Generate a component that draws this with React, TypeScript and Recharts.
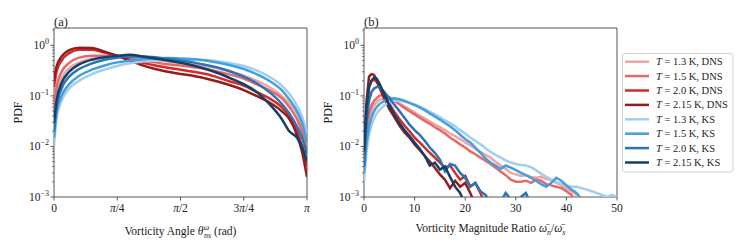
import React from 'react';
import { LineChart, Line, XAxis, YAxis, ReferenceArea } from 'recharts';

const FONT = '"Liberation Serif", "DejaVu Serif", serif';
const INK = '#222';

const LEGEND_TEMPS = ['1.3', '1.5', '2.0', '2.15', '1.3', '1.5', '2.0', '2.15'];
const LEGEND_MODELS = ['DNS', 'DNS', 'DNS', 'DNS', 'KS', 'KS', 'KS', 'KS'];
const COLORS = ['#f2a3a3', '#e46a6a', '#d42a2a', '#951c1c', '#a0cff0', '#449fe0', '#2a74b4', '#143f66'];

// panel (a): angle in units of pi
const ANGLE = [0, 0.01, 0.03, 0.06, 0.1, 0.15, 0.2, 0.25, 0.3, 0.35, 0.4, 0.45, 0.5, 0.55, 0.6, 0.65, 0.7, 0.75, 0.8, 0.85, 0.9, 0.93, 0.96, 0.98, 1.0];
const ANGLE_TICKS = [0, 0.25, 0.5, 0.75, 1];
const ANGLE_TICK_LABELS = ['0', 'π/4', 'π/2', '3π/4', 'π'];

const A_DNS_13 = [0.04, 0.1, 0.22, 0.35, 0.46, 0.54, 0.58, 0.6, 0.58, 0.55, 0.52, 0.48, 0.45, 0.42, 0.39, 0.35, 0.3, 0.25, 0.2, 0.15, 0.1, 0.07, 0.045, 0.025, 0.012];
const A_DNS_15 = [0.06, 0.15, 0.3, 0.45, 0.57, 0.62, 0.62, 0.6, 0.55, 0.5, 0.46, 0.42, 0.4, 0.37, 0.34, 0.3, 0.26, 0.22, 0.17, 0.13, 0.09, 0.06, 0.035, 0.02, 0.008];
const A_DNS_20 = [0.15, 0.3, 0.5, 0.7, 0.82, 0.82, 0.72, 0.62, 0.52, 0.45, 0.4, 0.36, 0.33, 0.3, 0.27, 0.23, 0.19, 0.16, 0.12, 0.09, 0.06, 0.04, 0.02, 0.01, 0.004];
const A_DNS_215 = [0.2, 0.38, 0.6, 0.8, 0.9, 0.88, 0.75, 0.62, 0.5, 0.4, 0.34, 0.3, 0.27, 0.25, 0.22, 0.19, 0.16, 0.13, 0.1, 0.075, 0.05, 0.035, 0.017, 0.008, 0.0025];
const A_KS_13 = [0.01, 0.035, 0.08, 0.14, 0.2, 0.27, 0.33, 0.39, 0.44, 0.48, 0.5, 0.52, 0.52, 0.52, 0.51, 0.48, 0.44, 0.39, 0.32, 0.24, 0.16, 0.11, 0.065, 0.04, 0.018];
const A_KS_15 = [0.015, 0.045, 0.1, 0.17, 0.25, 0.33, 0.4, 0.46, 0.5, 0.53, 0.55, 0.56, 0.55, 0.53, 0.5, 0.45, 0.4, 0.34, 0.27, 0.2, 0.13, 0.085, 0.05, 0.03, 0.012];
const A_KS_20 = [0.02, 0.06, 0.14, 0.24, 0.34, 0.44, 0.52, 0.57, 0.6, 0.6, 0.58, 0.54, 0.5, 0.46, 0.41, 0.36, 0.3, 0.24, 0.18, 0.12, 0.07, 0.045, 0.025, 0.015, 0.007];
const A_KS_215 = [0.03, 0.08, 0.18, 0.3, 0.42, 0.52, 0.58, 0.62, 0.65, 0.6, 0.55, 0.5, 0.45, 0.4, 0.34, 0.28, 0.22, 0.17, 0.12, 0.07, 0.035, 0.02, 0.015, 0.01, 0.005];

// panel (b): magnitude ratio
const RATIO = [0, 0.5, 1, 1.5, 2, 2.5, 3, 4, 5, 6, 7, 8, 9, 10, 11, 12, 13, 14, 15, 16, 17, 18, 19, 20, 21, 22, 23, 24, 25, 26, 27, 28, 29, 30, 31, 32, 33, 34, 35, 36, 37, 38, 39, 40, 41, 42, 43, 44, 45, 46, 47, 48, 49, 50];
const RATIO_TICKS = [0, 10, 20, 30, 40, 50];

const B_DNS_13 = [0.003, 0.015, 0.035, 0.052, 0.065, 0.075, 0.083, 0.09, 0.088, 0.08, 0.07, 0.062, 0.054, 0.047, 0.041, 0.036, 0.031, 0.027, 0.024, 0.021, 0.018, 0.016, 0.014, 0.012, 0.0105, 0.009, 0.0078, 0.0068, 0.006, 0.005, 0.0042, 0.0036, 0.003, 0.0028, 0.0026, 0.0027, 0.0025, 0.0024, 0.0025, 0.0023, 0.0021, 0.0019, 0.0017, 0.0015, 0.0013, 0.0011, 0.0007, null, null, null, null, null, null, null];
const B_DNS_15 = [0.004, 0.02, 0.045, 0.065, 0.08, 0.09, 0.1, 0.105, 0.095, 0.08, 0.068, 0.058, 0.05, 0.043, 0.037, 0.032, 0.028, 0.024, 0.021, 0.018, 0.015, 0.013, 0.011, 0.0095, 0.008, 0.007, 0.006, 0.0052, 0.0045, 0.0038, 0.0032, 0.0027, 0.0022, 0.002, 0.002, 0.0021, 0.0019, 0.0022, 0.0021, 0.0018, 0.0017, 0.0016, 0.0015, 0.0013, 0.0011, 0.0007, null, null, null, null, null, null, null, null];
const B_DNS_20 = [0.005, 0.05, 0.15, 0.2, 0.21, 0.19, 0.16, 0.11, 0.07, 0.048, 0.035, 0.026, 0.02, 0.015, 0.012, 0.0095, 0.0075, 0.006, 0.0048, 0.0038, 0.0042, 0.003, 0.0022, 0.0026, 0.0016, 0.0019, 0.0012, 0.0007, null, null, null, null, null, null, null, null, null, null, null, null, null, null, null, null, null, null, null, null, null, null, null, null, null, null];
const B_DNS_215 = [0.006, 0.08, 0.24, 0.27, 0.26, 0.2, 0.15, 0.09, 0.055, 0.038, 0.026, 0.019, 0.015, 0.011, 0.0085, 0.0065, 0.005, 0.0038, 0.0028, 0.0022, 0.0015, 0.0021, 0.0016, 0.0019, 0.0012, 0.0007, null, null, null, null, null, null, null, null, null, null, null, null, null, null, null, null, null, null, null, null, null, null, null, null, null, null, null, null];
const B_KS_13 = [0.002, 0.008, 0.017, 0.027, 0.036, 0.045, 0.052, 0.065, 0.075, 0.08, 0.08, 0.077, 0.072, 0.067, 0.061, 0.055, 0.049, 0.043, 0.038, 0.033, 0.029, 0.025, 0.021, 0.018, 0.015, 0.013, 0.011, 0.0092, 0.0078, 0.0068, 0.006, 0.0053, 0.0048, 0.0045, 0.0043, 0.0042, 0.0039, 0.0034, 0.0029, 0.0025, 0.0022, 0.002, 0.0018, 0.0017, 0.0016, 0.0016, 0.0015, 0.0014, 0.0013, 0.0012, 0.0011, 0.001, 0.0011, 0.001];
const B_KS_15 = [0.003, 0.012, 0.025, 0.038, 0.05, 0.06, 0.068, 0.08, 0.088, 0.09, 0.086, 0.08, 0.073, 0.066, 0.059, 0.052, 0.045, 0.039, 0.034, 0.029, 0.025, 0.021, 0.017, 0.014, 0.012, 0.0095, 0.0075, 0.0058, 0.0048, 0.0042, 0.0036, 0.0042, 0.0038, 0.0034, 0.003, 0.0027, 0.0024, 0.0021, 0.0018, 0.0016, 0.0019, 0.0024, 0.0021, 0.0017, 0.0014, 0.0012, 0.0009, 0.0006, null, null, null, null, null, null];
const B_KS_20 = [0.004, 0.03, 0.08, 0.12, 0.14, 0.15, 0.15, 0.12, 0.09, 0.067, 0.05, 0.037, 0.027, 0.021, 0.017, 0.013, 0.0095, 0.0075, 0.0055, 0.0032, 0.0045, 0.0042, 0.003, 0.0024, 0.0016, 0.0019, 0.0013, 0.0011, 0.0008, 0.0007, 0.0008, 0.0012, 0.0009, 0.0008, 0.001, 0.0012, 0.0007, null, null, null, null, null, null, null, null, null, null, null, null, null, null, null, null, null];
const B_KS_215 = [0.008, 0.06, 0.15, 0.2, 0.23, 0.22, 0.18, 0.11, 0.065, 0.042, 0.029, 0.021, 0.016, 0.012, 0.009, 0.0065, 0.0042, 0.0048, 0.0035, 0.004, 0.0025, 0.0016, 0.0012, 0.0007, null, null, null, null, null, null, null, null, null, null, null, null, null, null, null, null, null, null, null, null, null, null, null, null, null, null, null, null, null, null];

const ANGLE_SERIES = [A_DNS_13, A_DNS_15, A_DNS_20, A_DNS_215, A_KS_13, A_KS_15, A_KS_20, A_KS_215];
const RATIO_SERIES = [B_DNS_13, B_DNS_15, B_DNS_20, B_DNS_215, B_KS_13, B_KS_15, B_KS_20, B_KS_215];

const angleData = ANGLE.map((x, i) => {
  const row: Record<string, number | null> = { x };
  ANGLE_SERIES.forEach((s, k) => (row[`s${k}`] = s[i]));
  return row;
});
const ratioData = RATIO.map((x, i) => {
  const row: Record<string, number | null> = { x };
  RATIO_SERIES.forEach((s, k) => (row[`s${k}`] = s[i]));
  return row;
});

const Y_DOMAIN = [0.001, 2.2];
const Y_TICKS: number[] = [];
[0.001, 0.01, 0.1, 1].forEach((d) => {
  for (let m = 1; m <= 9; m++) {
    if (d * m <= 2.2) Y_TICKS.push(d * m);
  }
});

const LogTick = (props: any) => {
  const { x, y, payload } = props;
  const lg = Math.log10(payload.value);
  const exp = Math.round(lg);
  const major = Math.abs(lg - exp) < 1e-6;
  return (
    <g>
      <line x1={x} x2={x - (major ? 3.5 : 2)} y1={y} y2={y} stroke="#333" strokeWidth={major ? 0.8 : 0.6} />
      {major && (
        <text x={x - 5} y={y + 4} textAnchor="end" fontSize={11.5} fill={INK} fontFamily={FONT}>
          <tspan>10</tspan>
          <tspan dy={-5} fontSize={8}>{exp === 0 ? '0' : `−${-exp}`}</tspan>
        </text>
      )}
    </g>
  );
};

const makeXTick = (labels: Record<number, string>) => (props: any) => {
  const { x, y, payload } = props;
  const label = labels[payload.value] ?? String(payload.value);
  const parts = label.split('π');
  return (
    <g>
      <line x1={x} x2={x} y1={y} y2={y + 3.5} stroke="#333" strokeWidth={0.8} />
      <text x={x} y={y + 15} textAnchor="middle" fontSize={11.5} fill={INK} fontFamily={FONT}>
        {parts.map((p, i) => (
          <React.Fragment key={i}>
            {i > 0 && <tspan fontStyle="italic">π</tspan>}
            {p && <tspan>{p}</tspan>}
          </React.Fragment>
        ))}
      </text>
    </g>
  );
};

const angleLabels: Record<number, string> = {};
ANGLE_TICKS.forEach((t, i) => (angleLabels[t] = ANGLE_TICK_LABELS[i]));
const AngleTick = makeXTick(angleLabels);
const RatioTick = makeXTick({});

// y label "PDF" plus the panel tag above the plot's top-left corner
const makeYLabel = (tag: string) => (props: any) => {
  const { viewBox } = props;
  const cx = viewBox.x + viewBox.width - 36;
  const cy = viewBox.y + viewBox.height / 2;
  return (
    <g>
      <text x={cx} y={cy} transform={`rotate(-90, ${cx}, ${cy})`} textAnchor="middle" dominantBaseline="central" fontSize={12} fill={INK} fontFamily={FONT}>
        PDF
      </text>
      <text x={viewBox.x + viewBox.width} y={viewBox.y - 2.5} fontSize={12.5} fill={INK} fontFamily={FONT}>
        {tag}
      </text>
    </g>
  );
};

const AngleAxisLabel = (props: any) => {
  const { viewBox } = props;
  return (
    <text x={viewBox.x + viewBox.width / 2} y={viewBox.y + 38} textAnchor="middle" fontSize={11.5} fill={INK} fontFamily={FONT}>
      {'Vorticity Angle '}
      <tspan fontStyle="italic">θ</tspan>
      <tspan fontStyle="italic" fontSize={8} dy={-5}>ω</tspan>
      <tspan fontStyle="italic" fontSize={8} dx={-5} dy={8}>ns</tspan>
      <tspan dy={-3}>{' (rad)'}</tspan>
    </text>
  );
};

const RatioAxisLabel = (props: any) => {
  const { viewBox } = props;
  return (
    <text x={viewBox.x + viewBox.width / 2} y={viewBox.y + 35} textAnchor="middle" fontSize={11.5} fill={INK} fontFamily={FONT}>
      {'Vorticity Magnitude Ratio '}
      <tspan fontStyle="italic">{'ω\u0304'}</tspan>
      <tspan fontStyle="italic" fontSize={8} dy={3}>n</tspan>
      <tspan dy={-3}>/</tspan>
      <tspan fontStyle="italic">{'ω\u0304'}</tspan>
      <tspan fontStyle="italic" fontSize={8} dy={3}>s</tspan>
    </text>
  );
};

interface PanelProps {
  data: Record<string, number | null>[];
  width: number;
  yWidth: number;
  rightPad: number;
  xDomain: number[];
  xTicks: number[];
  xTick: (p: any) => React.ReactElement;
  xLabel: (p: any) => React.ReactElement;
  tag: string;
  curve: 'monotone' | 'linear';
}

function Panel({ data, width, yWidth, rightPad, xDomain, xTicks, xTick, xLabel, tag, curve }: PanelProps) {
  return (
    <LineChart width={width} height={249} data={data} margin={{ top: 28, right: rightPad, left: 0, bottom: 0 }}>
      <XAxis
        dataKey="x"
        type="number"
        domain={xDomain}
        ticks={xTicks}
        interval={0}
        allowDataOverflow
        axisLine={false}
        tickLine={false}
        tickSize={0}
        tickMargin={0}
        height={52}
        tick={xTick}
        label={{ content: xLabel }}
      />
      <YAxis
        scale="log"
        type="number"
        domain={Y_DOMAIN}
        allowDataOverflow
        ticks={Y_TICKS}
        interval={0}
        axisLine={false}
        tickLine={false}
        tickSize={0}
        tickMargin={0}
        width={yWidth}
        tick={<LogTick />}
        label={{ content: makeYLabel(tag) }}
      />
      {COLORS.map((c, k) => (
        <Line
          key={k}
          type={curve}
          dataKey={`s${k}`}
          stroke={c}
          strokeWidth={2.5}
          dot={false}
          activeDot={false}
          isAnimationActive={false}
          connectNulls={false}
        />
      ))}
      <ReferenceArea x1={xDomain[0]} x2={xDomain[1]} y1={Y_DOMAIN[0]} y2={Y_DOMAIN[1]} fill="none" stroke="#444" strokeWidth={0.9} ifOverflow="extendDomain" />
    </LineChart>
  );
}

function LegendBox() {
  const top = 61.7;
  const step = 14.4;
  return (
    <svg width={747} height={249} style={{ position: 'absolute', left: 0, top: 0, pointerEvents: 'none' }}>
      <rect x={622.5} y={53.5} width={110.5} height={118.5} rx={2.5} fill="#fff" fillOpacity={0.85} stroke="#ccc" strokeWidth={0.9} />
      {COLORS.map((c, i) => {
        const y = top + i * step;
        return (
          <g key={i}>
            <line x1={625} x2={649} y1={y} y2={y} stroke={c} strokeWidth={2.5} />
            <text x={656} y={y + 3.5} fontSize={10.5} fill={INK} fontFamily={FONT}>
              <tspan fontStyle="italic">T</tspan>
              {` = ${LEGEND_TEMPS[i]} K, ${LEGEND_MODELS[i]}`}
            </text>
          </g>
        );
      })}
    </svg>
  );
}

export default function App() {
  return (
    <div style={{ position: 'absolute', left: 0, top: 0, width: 747, height: 249, background: '#fff', fontFamily: FONT }}>
      <div style={{ position: 'absolute', left: 0, top: 0 }}>
        <Panel data={angleData} width={310} yWidth={54} rightPad={3} xDomain={[0, 1]} xTicks={ANGLE_TICKS} xTick={AngleTick} xLabel={AngleAxisLabel} tag="(a)" curve="monotone" />
      </div>
      <div style={{ position: 'absolute', left: 300, top: 0 }}>
        <Panel data={ratioData} width={330} yWidth={64} rightPad={13} xDomain={[0, 50]} xTicks={RATIO_TICKS} xTick={RatioTick} xLabel={RatioAxisLabel} tag="(b)" curve="linear" />
      </div>
      <LegendBox />
    </div>
  );
}
